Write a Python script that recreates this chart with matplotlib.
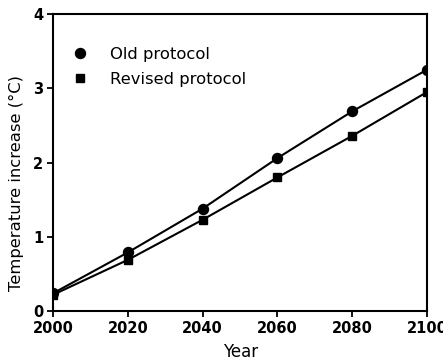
import matplotlib
matplotlib.use('Agg')
import matplotlib.pyplot as plt

years = [2000, 2020, 2040, 2060, 2080, 2100]
old_protocol = [0.24, 0.79, 1.38, 2.06, 2.69, 3.25]
revised_protocol = [0.22, 0.69, 1.23, 1.80, 2.36, 2.95]

plt.rcParams['font.family'] = ['DejaVu Sans']

fig = plt.figure(figsize=(4.43, 3.6), dpi=100)
ax = fig.add_axes([0.12, 0.136, 0.844, 0.825])

ax.plot(years, old_protocol, color='black', lw=1.5, marker='o', ms=7.2, label='Old protocol')
ax.plot(years, revised_protocol, color='black', lw=1.5, marker='s', ms=6.2, label='Revised protocol')

ax.set_xlim(2000, 2100)
ax.set_ylim(0, 4)
ax.set_xticks(years)
ax.set_yticks([0, 1, 2, 3, 4])
ax.tick_params(direction='out', length=4, width=1.3, labelsize=10.5, pad=3)
for lab in ax.get_xticklabels() + ax.get_yticklabels():
    lab.set_fontweight('bold')
for s in ax.spines.values():
    s.set_linewidth(1.5)

ax.set_xlabel('Year', fontsize=12, labelpad=5)
ax.set_ylabel('Temperature increase (°C)', fontsize=11.8)
ax.yaxis.set_label_coords(-0.077, 0.43)

leg = ax.legend(loc='upper left', bbox_to_anchor=(0.051, 0.89), frameon=False,
                fontsize=11.8, borderpad=0, handletextpad=1.3, labelspacing=0.62,
                handlelength=1.0, borderaxespad=0)
for h in leg.legend_handles:
    h.set_linestyle('none')

fig.savefig('out.png', dpi=100)
